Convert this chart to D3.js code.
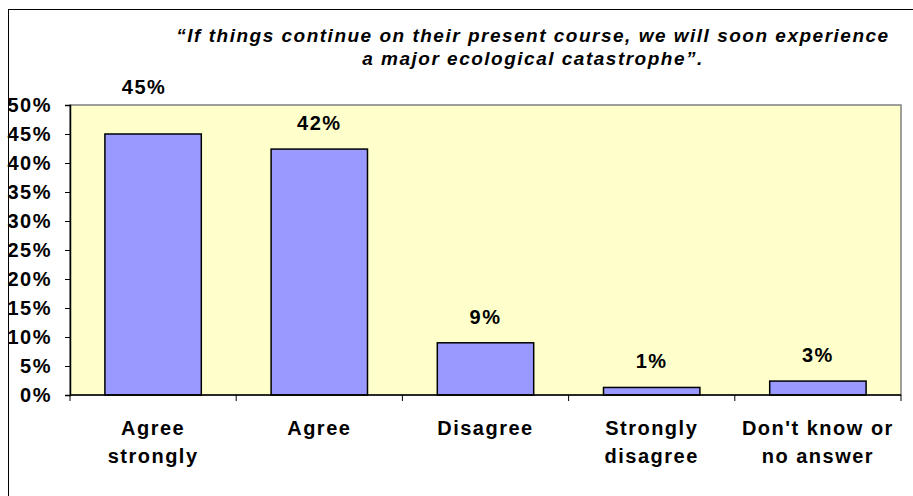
<!DOCTYPE html>
<meta charset="utf-8">
<head>
  <title>Ecological catastrophe</title>
</head>
<style>
body {
  margin: 0;
  background: #fff;
  font-family: "Liberation Sans", Arial, Helvetica, sans-serif;
}
svg text { font-weight: bold; fill: #000; letter-spacing: 1.5px; }
</style>
<body>
  <div id="content">
    <svg width="913" height="496"></svg>
  </div>
  <script src="https://cdnjs.cloudflare.com/ajax/libs/d3/7.8.5/d3.min.js"></script>
  <script>

// Data
var categories = [["Agree", "strongly"], ["Agree"], ["Disagree"], ["Strongly", "disagree"], ["Don't know or", "no answer"]];
var values = [45, 42.4, 9, 1.3, 2.4];
var valueLabels = ["45%", "42%", "9%", "1%", "3%"];
var yTicks = [0, 5, 10, 15, 20, 25, 30, 35, 40, 45, 50];
var titleLines = ["\u201cIf things continue on their present course, we will soon experience", "a major ecological catastrophe\u201d."];

var svg = d3.select('#content svg');

// outer frame
svg.append('rect')
  .attr('x', 8.5).attr('y', 9.5)
  .attr('width', 920).attr('height', 520)
  .attr('fill', 'none')
  .attr('stroke', '#000');

var pLeft = 70, pRight = 901, pTop = 105, pBottom = 395;

var x = d3.scaleBand()
  .domain(d3.range(categories.length))
  .range([pLeft, pRight])
  .paddingInner(0.42)
  .paddingOuter(0.21);

var y = d3.scaleLinear()
  .domain([0, 50])
  .range([pBottom, pTop]);

// plot area
svg.append('rect')
  .attr('x', pLeft).attr('y', pTop)
  .attr('width', pRight - pLeft).attr('height', pBottom - pTop)
  .attr('fill', '#FFFFCC')
  .attr('stroke', '#808080')
  .attr('stroke-width', 1.5);

// bars
svg.selectAll('.bar')
  .data(values)
  .enter().append('rect')
  .attr('class', 'bar')
  .attr('x', function(d, i) { return x(i); })
  .attr('y', function(d) { return y(d); })
  .attr('width', x.bandwidth())
  .attr('height', function(d) { return y(0) - y(d); })
  .attr('fill', '#9999FF')
  .attr('stroke', '#000')
  .attr('stroke-width', 1.5);

// value labels (the tallest one sits higher, as in the original)
svg.selectAll('.vlab')
  .data(values)
  .enter().append('text')
  .attr('class', 'vlab')
  .attr('x', function(d, i) { return x(i) + x.bandwidth() / 2 - (i === 0 ? 9 : 0); })
  .attr('y', function(d, i) { return y(d) - (i === 0 ? 40 : 19); })
  .attr('text-anchor', 'middle')
  .style('font-size', '20px')
  .text(function(d, i) { return valueLabels[i]; });

// y axis
var yAxis = d3.axisLeft(y)
  .tickValues(yTicks)
  .tickFormat(function(d) { return d + '%'; })
  .tickSize(5)
  .tickPadding(13);

var gy = svg.append('g')
  .attr('transform', 'translate(' + pLeft + ',0)')
  .call(yAxis);
gy.select('.domain').attr('stroke', '#000').attr('stroke-width', 1.5);
gy.selectAll('.tick line').attr('stroke', '#000');
gy.selectAll('.tick text')
  .attr('fill', '#000')
  .style('font-size', '20px')
  .style('font-family', '"Liberation Sans", Arial, sans-serif')
  .style('font-weight', 'bold');

// x axis line and boundary ticks
svg.append('line')
  .attr('x1', pLeft).attr('x2', pRight)
  .attr('y1', pBottom).attr('y2', pBottom)
  .attr('stroke', '#000').attr('stroke-width', 1.5);

var step = x.step();
svg.selectAll('.xtick')
  .data(d3.range(categories.length + 1))
  .enter().append('line')
  .attr('x1', function(i) { return x(0) - x.paddingOuter() * step + i * step; })
  .attr('x2', function(i) { return x(0) - x.paddingOuter() * step + i * step; })
  .attr('y1', pBottom).attr('y2', pBottom + 6)
  .attr('stroke', '#000');

// category labels
var cl = svg.selectAll('.clab')
  .data(categories)
  .enter().append('text')
  .attr('class', 'clab')
  .attr('text-anchor', 'middle')
  .style('font-size', '20px')
  .attr('transform', function(d, i) { return 'translate(' + (x(i) + x.bandwidth() / 2) + ',435)'; });
cl.selectAll('tspan')
  .data(function(d) { return d; })
  .enter().append('tspan')
  .attr('x', 0)
  .attr('dy', function(d, j) { return j === 0 ? 0 : 28; })
  .text(function(d) { return d; });

// title
svg.selectAll('.title')
  .data(titleLines)
  .enter().append('text')
  .attr('class', 'title')
  .attr('x', 533)
  .attr('y', function(d, i) { return 42 + i * 23; })
  .attr('text-anchor', 'middle')
  .style('font-size', '19px')
  .style('font-style', 'italic')
  .text(function(d) { return d; });
</script>
</body>
</html>
